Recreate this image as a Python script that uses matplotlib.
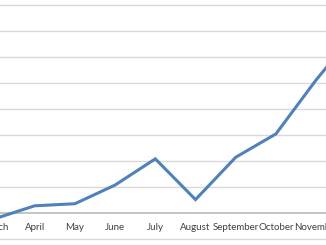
import matplotlib.pyplot as plt
import numpy as np

months = ["March", "April", "May", "June", "July", "August",
          "September", "October", "November", "December"]
values = [-2.3, 2.7, 3.5, 10.7, 20.8, 5.1, 21.4, 30.4, 51.2, 70]
grid_values = [-10, 10, 20, 30, 40, 50, 60, 70, 80]

x = np.arange(len(months))

fig = plt.figure(figsize=(3.26, 2.45), dpi=100)
ax = fig.add_axes([0, 0, 1, 1])

for g in grid_values:
    ax.axhline(g, color="#d9d9d9", lw=1.0, zorder=1)
# horizontal axis at zero
ax.axhline(0, color="#bfbfbf", lw=1.3, zorder=1)

ax.plot(x, values, color="#4f81bd", lw=2.2, solid_joinstyle="miter", zorder=3)

for i, m in enumerate(months):
    ax.text(i, -5.8, m, ha="center", va="center", fontsize=7,
            family="Lato", color="#404040", clip_on=True)

ax.set_xlim(0.137, 8.246)
ax.set_ylim(-12.4, 82)
ax.axis("off")

fig.savefig("out.png", dpi=100)
